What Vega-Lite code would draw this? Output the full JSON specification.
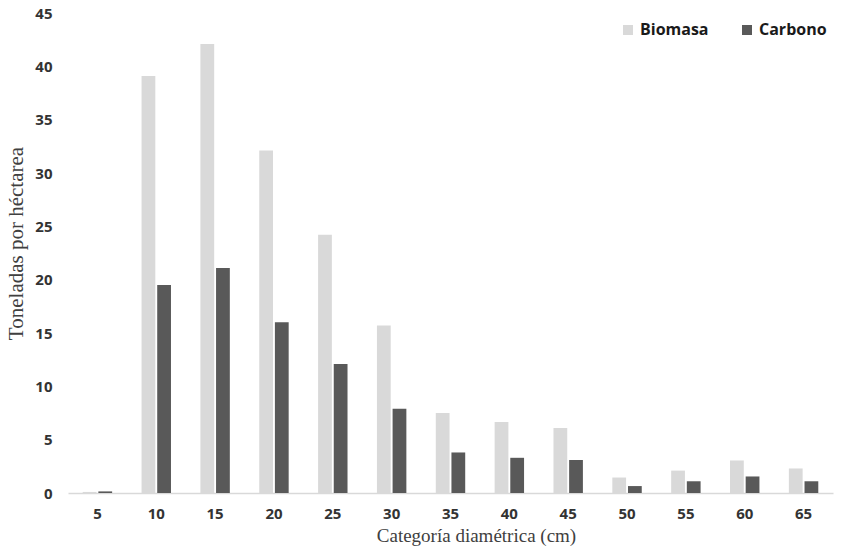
{
  "$schema": "https://vega.github.io/schema/vega-lite/v6.json",
  "width": 765,
  "height": 480,
  "autosize": {"type": "none"},
  "padding": {"left": 68, "top": 13, "right": 25, "bottom": 56},
  "background": "white",
  "config": {"view": {"stroke": null}},
  "data": {
    "values": [
      {"cat": "5", "serie": "Biomasa", "valor": 0.1},
      {"cat": "5", "serie": "Carbono", "valor": 0.15},
      {"cat": "10", "serie": "Biomasa", "valor": 39.1},
      {"cat": "10", "serie": "Carbono", "valor": 19.5},
      {"cat": "15", "serie": "Biomasa", "valor": 42.1},
      {"cat": "15", "serie": "Carbono", "valor": 21.1},
      {"cat": "20", "serie": "Biomasa", "valor": 32.1},
      {"cat": "20", "serie": "Carbono", "valor": 16.0},
      {"cat": "25", "serie": "Biomasa", "valor": 24.2},
      {"cat": "25", "serie": "Carbono", "valor": 12.1},
      {"cat": "30", "serie": "Biomasa", "valor": 15.7},
      {"cat": "30", "serie": "Carbono", "valor": 7.9},
      {"cat": "35", "serie": "Biomasa", "valor": 7.5},
      {"cat": "35", "serie": "Carbono", "valor": 3.8},
      {"cat": "40", "serie": "Biomasa", "valor": 6.65},
      {"cat": "40", "serie": "Carbono", "valor": 3.3},
      {"cat": "45", "serie": "Biomasa", "valor": 6.1},
      {"cat": "45", "serie": "Carbono", "valor": 3.1},
      {"cat": "50", "serie": "Biomasa", "valor": 1.45},
      {"cat": "50", "serie": "Carbono", "valor": 0.65},
      {"cat": "55", "serie": "Biomasa", "valor": 2.1},
      {"cat": "55", "serie": "Carbono", "valor": 1.1},
      {"cat": "60", "serie": "Biomasa", "valor": 3.05},
      {"cat": "60", "serie": "Carbono", "valor": 1.55},
      {"cat": "65", "serie": "Biomasa", "valor": 2.3},
      {"cat": "65", "serie": "Carbono", "valor": 1.1}
    ]
  },
  "mark": {"type": "bar"},
  "encoding": {
    "x": {
      "field": "cat",
      "type": "nominal",
      "sort": null,
      "scale": {"paddingInner": 0.5, "paddingOuter": 0.25},
      "axis": {
        "title": "Categoría diamétrica (cm)",
        "titleFont": "Liberation Serif",
        "titleFontWeight": "normal",
        "titleFontSize": 19,
        "titleColor": "#404040",
        "titlePadding": 5,
        "titleX": 408,
        "labelAngle": 0,
        "labelFont": "Open Sans",
        "labelFontWeight": "bold",
        "labelFontSize": 15,
        "labelColor": "#333333",
        "labelPadding": 13,
        "ticks": false,
        "domainColor": "#d9d9d9",
        "domainWidth": 1.5
      }
    },
    "xOffset": {
      "field": "serie",
      "type": "nominal",
      "scale": {"paddingInner": 0.12, "paddingOuter": 0}
    },
    "y": {
      "field": "valor",
      "type": "quantitative",
      "scale": {"domain": [0, 45], "nice": false},
      "axis": {
        "title": "Toneladas por héctarea",
        "titleFont": "Liberation Serif",
        "titleFontWeight": "normal",
        "titleFontSize": 21,
        "titleColor": "#404040",
        "titlePadding": 8,
        "titleY": 230,
        "values": [0, 5, 10, 15, 20, 25, 30, 35, 40, 45],
        "labelFont": "Open Sans",
        "labelFontWeight": "bold",
        "labelFontSize": 15,
        "labelColor": "#333333",
        "labelPadding": 16,
        "ticks": false,
        "domain": false,
        "grid": false
      }
    },
    "color": {
      "field": "serie",
      "type": "nominal",
      "scale": {"domain": ["Biomasa", "Carbono"], "range": ["#d9d9d9", "#595959"]},
      "legend": {
        "title": null,
        "orient": "none",
        "legendX": 552,
        "legendY": 9,
        "direction": "horizontal",
        "symbolType": "square",
        "symbolSize": 100,
        "symbolStrokeWidth": 0,
        "labelFont": "Open Sans",
        "labelFontWeight": "bold",
        "labelFontSize": 16,
        "labelColor": "#1a1a1a",
        "columnPadding": 30
      }
    }
  }
}
